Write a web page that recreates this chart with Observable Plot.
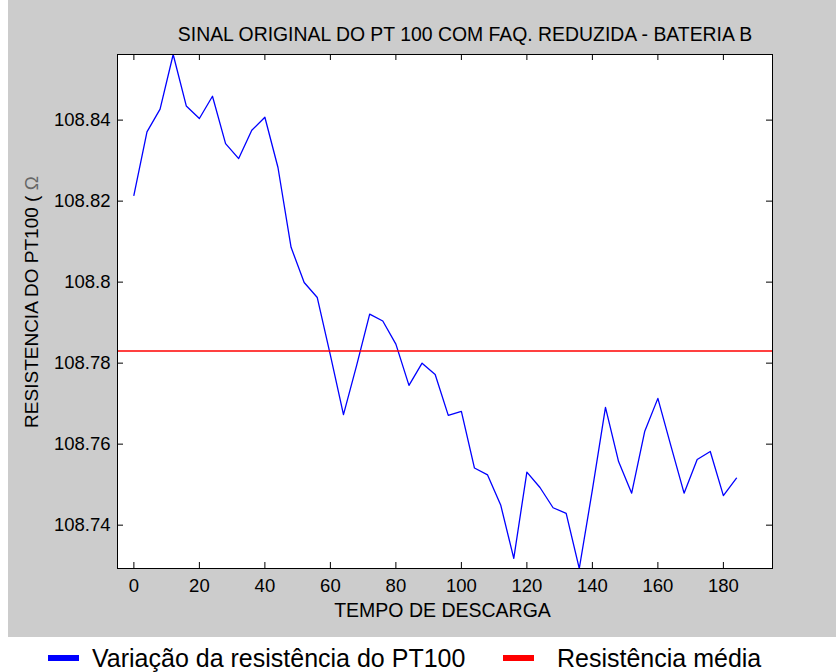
<!DOCTYPE html>
<html><head><meta charset="utf-8">
<script src="https://cdn.jsdelivr.net/npm/d3@7"></script>
<script src="https://cdn.jsdelivr.net/npm/@observablehq/plot@0.6"></script>
<style>
html,body{margin:0;padding:0;background:#fff;overflow:hidden;}
#chart svg{display:block;margin-left:8px;}
#legend{display:block;}
</style></head><body>
<div id="chart"></div>
<script>
// ---- data ----
const tempo = [0,4,8,12,16,20,24,28,32,36,40,44,48,52,56,60,64,68,72,76,80,84,88,92,96,100,104,108,112,116,120,124,128,132,136,140,144,148,152,156,160,164,168,172,176,180,184];
const resistencia = [108.8214,108.8371,108.8427,108.8562,108.8435,108.8404,108.8459,108.8342,108.8305,108.8375,
  108.8407,108.8283,108.8086,108.7999,108.7962,108.7820,108.7673,108.7794,108.7921,108.7904,
  108.7847,108.7745,108.7800,108.7772,108.7671,108.7681,108.7541,108.7524,108.7450,108.7318,
  108.7531,108.7493,108.7443,108.7429,108.7293,108.7487,108.7691,108.7557,108.7479,108.7632,
  108.7713,108.7595,108.7479,108.7562,108.7582,108.7473,108.7516];
const mediaResistencia = [108.783];
const xTicks = [0,20,40,60,80,100,120,140,160,180];
const xTickLabels = ["0","20","40","60","80","100","120","140","160","180"];
const yTicks = [108.74,108.76,108.78,108.8,108.82,108.84];
const yTickLabels = ["108.74","108.76","108.78","108.8","108.82","108.84"];
const xDomain = [-5,195];
const titulo = "SINAL ORIGINAL DO PT 100 COM FAQ. REDUZIDA - BATERIA B";
const xTitulo = "TEMPO DE DESCARGA";
const yTitulo = "RESISTENCIA DO PT100 ( ";
const yUnidade = "\u03A9";
const legendaSeries = ["Variação da resistência do PT100","Resistência média"];
const legendaCores = ["#0000ff","#ff0000"];

// ---- layout ----
const W = 828, H = 637;
const mL = 109, mR = 64, mT = 54, mB = 69;
const innerW = W - mL - mR, innerH = H - mT - mB;
const tickLen = 6;
const FONT = "'Liberation Sans', Arial, Helvetica, sans-serif";

const data = tempo.map((t,i)=>({t, r: resistencia[i]}));

const chart = Plot.plot({
  width: W, height: H,
  marginLeft: mL, marginRight: mR, marginTop: mT, marginBottom: mB,
  style: {background: "#cccccc", fontFamily: FONT, fontSize: "18.5px", color: "#000"},
  x: {domain: xDomain},
  y: {domain: d3.extent(resistencia)},
  marks: [
    Plot.frame({fill: "white", stroke: null}),
    Plot.line(data, {x: "t", y: "r", stroke: legendaCores[0], strokeWidth: 1.3, clip: "frame"}),
    Plot.ruleY(mediaResistencia, {stroke: legendaCores[1], strokeWidth: 1.6}),
    Plot.tickX(xTicks, {x: d=>d, stroke: "#000", insetTop: innerH - tickLen}),
    Plot.tickX(xTicks, {x: d=>d, stroke: "#000", insetBottom: innerH - tickLen}),
    Plot.tickY(yTicks, {y: d=>d, stroke: "#000", insetRight: innerW - tickLen}),
    Plot.tickY(yTicks, {y: d=>d, stroke: "#000", insetLeft: innerW - tickLen}),
    Plot.frame({stroke: "#000", fill: "none"}),
    Plot.axisX(xTicks, {tickSize: 0, tickPadding: 10, label: null,
      tickFormat: d => xTickLabels[xTicks.indexOf(d)]}),
    Plot.axisY(yTicks, {tickSize: 0, tickPadding: 7, label: null,
      tickFormat: d => yTickLabels[yTicks.indexOf(d)]})
  ]
});
document.getElementById("chart").appendChild(chart);

const svg = d3.select(chart);
svg.append("text").attr("x", 465 - 8).attr("y", 41).attr("text-anchor", "middle")
  .attr("font-size", 19.4).attr("fill", "#000").text(titulo);
svg.append("text").attr("x", 442.5 - 8).attr("y", 617).attr("text-anchor", "middle")
  .attr("font-size", 19.5).attr("fill", "#000").text(xTitulo);
const yl = svg.append("text").attr("transform", `translate(${37.5 - 8},302) rotate(-90)`)
  .attr("text-anchor", "middle").attr("font-size", 19).attr("fill", "#000");
yl.append("tspan").text(yTitulo);
yl.append("tspan").attr("fill", "#666").text(yUnidade);

// ---- legend ----
const leg = d3.select("body").append("svg").attr("id", "legend")
  .attr("width", 836).attr("height", 35).style("background", "#fff");
const legX = [[48, 92], [503, 557]];
legendaSeries.forEach((s, i) => {
  leg.append("rect").attr("x", legX[i][0]).attr("y", 18).attr("width", 31).attr("height", 6)
    .attr("fill", legendaCores[i]);
  leg.append("text").attr("x", legX[i][1]).attr("y", 30).attr("font-family", FONT)
    .attr("font-size", 25).attr("fill", "#000").text(s);
});
</script>
</body></html>
